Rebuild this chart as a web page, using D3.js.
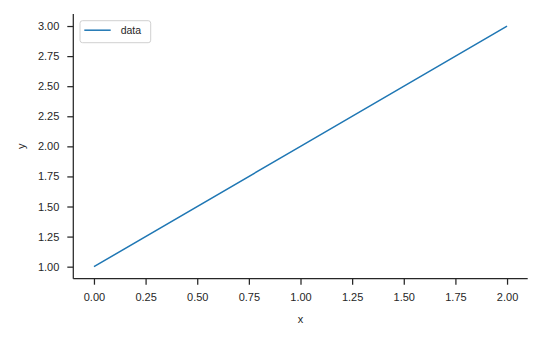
<!DOCTYPE html>
<html>
<head>
<meta charset="utf-8">
<script src="https://cdn.jsdelivr.net/npm/d3@7"></script>
<style>
  body { margin: 0; background: #fff; }
  svg { display: block; font-family: "Liberation Sans", Arial, sans-serif; }
</style>
</head>
<body>
<svg id="chart" width="542" height="341"></svg>
<script>
// data
const xValues = [0, 1, 2];
const yValues = [1, 2, 3];
const seriesName = "data";
const xTicks = [0, 0.25, 0.5, 0.75, 1, 1.25, 1.5, 1.75, 2];
const yTicks = [1, 1.25, 1.5, 1.75, 2, 2.25, 2.5, 2.75, 3];

const svg = d3.select("#chart");
const plotLeft = 73.3, plotRight = 527.7, plotTop = 14, plotBottom = 278.7;
const ink = "#262626";

const x = d3.scaleLinear().domain([-0.1, 2.1]).range([plotLeft, plotRight]);
const y = d3.scaleLinear().domain([0.9, 3.1]).range([plotBottom, plotTop]);

// x axis
const xAxis = svg.append("g")
  .attr("transform", `translate(0,${plotBottom})`)
  .call(d3.axisBottom(x).tickValues(xTicks).tickFormat(d3.format(".2f")).tickSize(6).tickPadding(9));
xAxis.select(".domain").attr("d", `M${plotLeft},0H${plotRight}`);

// y axis
const yAxis = svg.append("g")
  .attr("transform", `translate(${plotLeft},0)`)
  .call(d3.axisLeft(y).tickValues(yTicks).tickFormat(d3.format(".2f")).tickSize(6).tickPadding(8));
yAxis.select(".domain").attr("d", `M0,${plotTop}V${plotBottom}`);

svg.selectAll(".domain").attr("stroke", ink).attr("stroke-width", 1.25);
svg.selectAll(".tick line").attr("stroke", ink).attr("stroke-width", 1.25);
svg.selectAll(".tick text").attr("fill", ink).attr("font-size", 11)
  .attr("font-family", "Liberation Sans, Arial, sans-serif");

// axis labels
svg.append("text")
  .attr("x", (plotLeft + plotRight) / 2).attr("y", 323)
  .attr("text-anchor", "middle").attr("font-size", 11).attr("fill", ink)
  .text("x");
svg.append("text")
  .attr("transform", `translate(25,${(plotTop + plotBottom) / 2}) rotate(-90)`)
  .attr("text-anchor", "middle").attr("font-size", 11).attr("fill", ink)
  .text("y");

// line
const line = d3.line().x((d, i) => x(xValues[i])).y(d => y(d));
svg.append("path")
  .datum(yValues)
  .attr("fill", "none")
  .attr("stroke", "#1f77b4")
  .attr("stroke-width", 1.5)
  .attr("d", line);

// legend
const legend = svg.append("g").attr("transform", "translate(80,20.7)");
legend.append("rect")
  .attr("x", 0).attr("y", 0).attr("width", 70.7).attr("height", 22)
  .attr("rx", 2.5)
  .attr("fill", "#fff").attr("fill-opacity", 0.8)
  .attr("stroke", "#d0d0d0").attr("stroke-width", 1);
legend.append("line")
  .attr("x1", 4.3).attr("x2", 30.7).attr("y1", 9.5).attr("y2", 9.5)
  .attr("stroke", "#1f77b4").attr("stroke-width", 1.5);
legend.append("text")
  .attr("x", 40.7).attr("y", 13.6)
  .attr("font-size", 10.5).attr("fill", ink)
  .text(seriesName);
</script>
</body>
</html>
